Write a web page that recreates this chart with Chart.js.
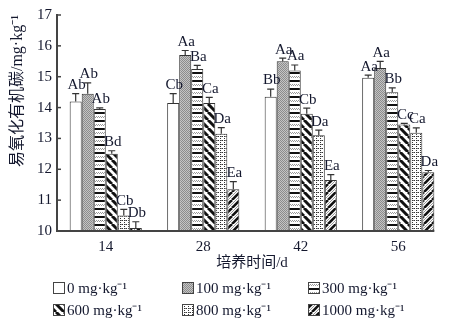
<!DOCTYPE html>
<html>
<head>
<meta charset="utf-8">
<script src="https://cdn.jsdelivr.net/npm/chart.js@4.4.1/dist/chart.umd.min.js"></script>
<style>
  html, body { margin: 0; padding: 0; background: #fff; }
  #wrap { width: 452px; height: 333px; }
</style>
</head>
<body>
<div id="wrap"><canvas id="soc"></canvas></div>
<script>
// incubation days
const days = ['14', '28', '42', '56'];
const doses = ['0 mg·kg⁻¹', '100 mg·kg⁻¹', '300 mg·kg⁻¹', '600 mg·kg⁻¹', '800 mg·kg⁻¹', '1000 mg·kg⁻¹'];

// readily oxidizable organic carbon per dose, one value per day
const dose0 = [14.2, 14.15, 14.35, 14.97];
const dose100 = [14.45, 15.7, 15.5, 15.28];
const dose300 = [13.95, 15.25, 15.2, 14.5];
const dose600 = [12.5, 14.15, 13.8, 13.45];
const dose800 = [10.5, 13.15, 13.1, 13.18];
const dose1000 = [10.1, 11.35, 11.65, 11.9];

// standard errors
const err0 = [0.25, 0.3, 0.25, 0.08];
const err100 = [0.35, 0.15, 0.1, 0.22];
const err300 = [0.04, 0.12, 0.18, 0.14];
const err600 = [0.1, 0.18, 0.18, 0.04];
const err800 = [0.2, 0.2, 0.17, 0.16];
const err1000 = [0.2, 0.25, 0.18, 0.06];

// significance letters
const sig0 = ['Ab', 'Cb', 'Bb', 'Aa'];
const sig100 = ['Ab', 'Aa', 'Aa', 'Aa'];
const sig300 = ['Ab', 'Ba', 'Aa', 'Bb'];
const sig600 = ['Bd', 'Ca', 'Cb', 'Cc'];
const sig800 = ['Cb', 'Da', 'Da', 'Ca'];
const sig1000 = ['Db', 'Ea', 'Ea', 'Da'];

const yTicks = [10, 11, 12, 13, 14, 15, 16, 17];

const serif = "'Liberation Serif', 'Noto Sans CJK SC', serif";
const ink = '#14182e';

function makePattern(w, h, draw) {
    const cv = document.createElement('canvas');
    cv.width = w; cv.height = h;
    const g = cv.getContext('2d');
    g.fillStyle = '#fff';
    g.fillRect(0, 0, w, h);
    draw(g, w, h);
    return g.createPattern(cv, 'repeat');
}

const fills = [
    '#ffffff',
    // fine grey stipple
    makePattern(2, 2, (g) => {
        g.fillStyle = '#c4c4c4'; g.fillRect(0, 0, 2, 2);
        g.fillStyle = '#8c8c8c'; g.fillRect(0, 0, 1, 1); g.fillRect(1, 1, 1, 1);
    }),
    // horizontal bands
    makePattern(4, 8, (g) => {
        g.fillStyle = '#111'; g.fillRect(0, 0, 4, 2);
        g.fillStyle = '#999'; g.fillRect(0, 4, 1, 1); g.fillRect(2, 4, 1, 1);
        g.fillRect(1, 5, 1, 1); g.fillRect(3, 5, 1, 1);
    }),
    // thick back-slash stripes
    makePattern(8, 8, (g) => {
        g.strokeStyle = '#111'; g.lineWidth = 3;
        for (const o of [-8, 0, 8]) {
            g.beginPath(); g.moveTo(o, 0); g.lineTo(o + 8, 8); g.stroke();
        }
    }),
    // dotted grid
    makePattern(4, 4, (g) => {
        g.fillStyle = '#333';
        g.fillRect(0, 0, 1, 1); g.fillRect(2, 0, 1, 1);
        g.fillRect(0, 2, 1, 1);
        g.fillStyle = '#888';
        g.fillRect(1, 0, 1, 1);
    }),
    // forward-slash stripes
    makePattern(8, 8, (g) => {
        g.strokeStyle = '#111'; g.lineWidth = 2.6;
        for (const o of [-8, 0, 8]) {
            g.beginPath(); g.moveTo(o, 8); g.lineTo(o + 8, 0); g.stroke();
        }
        g.strokeStyle = '#999'; g.lineWidth = 1;
        for (const o of [-4, 4, 12]) {
            g.beginPath(); g.moveTo(o, 8); g.lineTo(o + 8, 0); g.stroke();
        }
    })
];

const series = [dose0, dose100, dose300, dose600, dose800, dose1000];
const errors = [err0, err100, err300, err600, err800, err1000];
const letters = [sig0, sig100, sig300, sig600, sig800, sig1000];

const datasets = series.map((vals, i) => ({
    label: doses[i],
    data: vals,
    backgroundColor: fills[i],
    borderColor: '#333',
    borderWidth: 1,
    borderSkipped: 'bottom',
    categoryPercentage: 0.74,
    barPercentage: 1
}));

// error bars, letters, axis tick marks and the legend grid
const extras = {
    id: 'extras',
    afterDatasetsDraw(chart) {
        const ctx = chart.ctx;
        const y = chart.scales.y;
        const area = chart.chartArea;
        ctx.save();

        // x axis line stops at the last bar
        const lastMeta = chart.getDatasetMeta(series.length - 1);
        const lastBar = lastMeta.data[lastMeta.data.length - 1];
        ctx.strokeStyle = '#444';
        ctx.lineWidth = 2;
        ctx.beginPath();
        ctx.moveTo(area.left, area.bottom);
        ctx.lineTo(lastBar.x + lastBar.width / 2, area.bottom);
        ctx.stroke();

        // inward ticks on y axis
        ctx.lineWidth = 1.5;
        yTicks.forEach(v => {
            const py = y.getPixelForValue(v);
            ctx.beginPath();
            ctx.moveTo(area.left, py);
            ctx.lineTo(area.left + 4, py);
            ctx.stroke();
        });

        series.forEach((vals, i) => {
            const meta = chart.getDatasetMeta(i);
            meta.data.forEach((bar, j) => {
                const top = y.getPixelForValue(vals[j] + errors[i][j]);
                ctx.strokeStyle = '#333';
                ctx.lineWidth = 1.2;
                ctx.beginPath();
                ctx.moveTo(bar.x, bar.y);
                ctx.lineTo(bar.x, top);
                ctx.moveTo(bar.x - 3.5, top);
                ctx.lineTo(bar.x + 3.5, top);
                ctx.stroke();

                ctx.fillStyle = ink;
                ctx.font = '15px ' + serif;
                ctx.textAlign = 'center';
                ctx.textBaseline = 'bottom';
                ctx.fillText(letters[i][j], bar.x + 1, top - 1);
            });
        });

        // legend, three columns by two rows
        const colX = [53, 182, 308];
        const rowY = [288, 310];
        ctx.font = '15px ' + serif;
        ctx.textAlign = 'left';
        ctx.textBaseline = 'middle';
        doses.forEach((name, i) => {
            const bx = colX[i % 3];
            const by = rowY[Math.floor(i / 3)];
            ctx.fillStyle = fills[i];
            ctx.fillRect(bx, by - 6, 12, 12);
            ctx.strokeStyle = '#444';
            ctx.lineWidth = 1;
            ctx.strokeRect(bx + 0.5, by - 5.5, 11, 11);
            ctx.fillStyle = ink;
            ctx.fillText(name, bx + 14, by + 1);
        });
        ctx.restore();
    }
};

new Chart(document.getElementById('soc'), {
    type: 'bar',
    data: { labels: days, datasets: datasets },
    options: {
        animation: false,
        responsive: true,
        maintainAspectRatio: false,
        devicePixelRatio: 1,
        layout: { padding: { top: 15, right: 5, bottom: 61, left: 0 } },
        plugins: { legend: { display: false }, tooltip: { enabled: false } },
        scales: {
            x: {
                grid: { display: false, drawTicks: false },
                border: { display: false },
                ticks: { color: ink, padding: 7, font: { family: serif, size: 15 } },
                title: {
                    display: true,
                    text: '培养时间/d',
                    color: ink,
                    font: { family: serif, size: 15 },
                    padding: { top: 0, bottom: 0 }
                },
                afterFit: (s) => { s.height = 41; }
            },
            y: {
                min: 10,
                max: 17,
                grid: { display: false, drawTicks: false },
                border: { display: true, color: '#444', width: 2 },
                ticks: { stepSize: 1, color: ink, padding: 5, font: { family: serif, size: 15 } },
                title: {
                    display: true,
                    text: '易氧化有机碳/mg·kg⁻¹',
                    align: 'end',
                    color: ink,
                    font: { family: serif, size: 16 },
                    padding: { top: 8, bottom: 0 }
                },
                afterFit: (s) => { s.width = 57; }
            }
        }
    },
    plugins: [extras]
});
</script>
</body>
</html>
